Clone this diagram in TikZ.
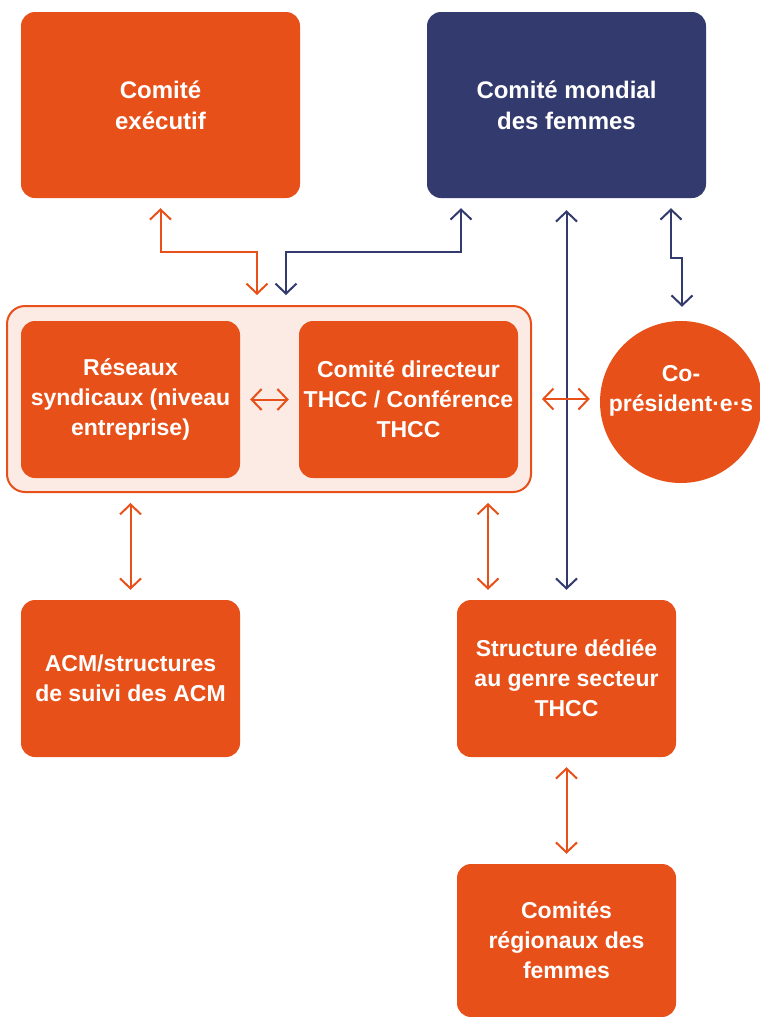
\documentclass[tikz,border=0pt]{standalone}
\usepackage{fontspec}
\setmainfont{Liberation Sans}
\usetikzlibrary{arrows.meta,calc,positioning}
\definecolor{orng}{HTML}{E8501A}
\definecolor{navy}{HTML}{333A6E}
\definecolor{pinkbg}{HTML}{FCEBE5}
\tikzset{
  box/.style={rectangle,rounded corners=14pt,fill=orng,draw=none,text=white,
    font=\fontsize{23}{30}\selectfont\bfseries,align=center,inner sep=0pt},
  bigbox/.style={box,font=\fontsize{24}{31}\selectfont\bfseries},
  nbox/.style={bigbox,fill=navy},
  barbtip/.tip={Straight Barb[length=10pt,width=21pt,line width=2pt]},
  oarr/.style={draw=orng,line width=2pt,barbtip-barbtip,shorten <=10pt,shorten >=10pt},
  narr/.style={draw=navy,line width=2pt,barbtip-barbtip,shorten <=10pt,shorten >=10pt},
}
\begin{document}
\begin{tikzpicture}[x=1pt,y=-1pt]
\useasboundingbox (0,0) rectangle (760,1017);
% group container
\node[rectangle,rounded corners=18pt,fill=pinkbg,draw=orng,line width=2pt,
  minimum width=524pt,minimum height=186pt,inner sep=0pt] (group) at (269,399) {};
\node[bigbox,minimum width=279pt,minimum height=186pt] (exec) at (160.5,105) {Comité\\exécutif};
\node[nbox,minimum width=279pt,minimum height=186pt] (mondial) at (566.5,105) {Comité mondial\\des femmes};
\node[box,minimum width=219pt,minimum height=157pt] (res) at (130.5,399.5) {Réseaux\\syndicaux (niveau\\entreprise)};
\node[box,minimum width=219pt,minimum height=157pt] (dir) at (408.5,399.5) {Comité directeur\\THCC / Conférence\\THCC};
\node[circle,fill=orng,minimum size=162pt,inner sep=0pt] (copres) at (681,402) {};
\node[text=white,font=\fontsize{23}{30}\selectfont\bfseries,align=center] (copreslbl) at (681,391) {Co-\\président·e·s};
\node[box,minimum width=219pt,minimum height=157pt] (acm) at (130.5,678.5) {ACM/structures\\de suivi des ACM};
\node[box,minimum width=219pt,minimum height=157pt] (struct) at (566.5,678.5) {Structure dédiée\\au genre secteur\\THCC};
\node[box,minimum width=219pt,minimum height=153pt] (reg) at (566.5,940.5) {Comités\\régionaux des\\femmes};
% coordinates
\coordinate (j1) at (257,252);
\coordinate (n1) at (286,252);
\coordinate (n2) at (461,252);
\coordinate (n3) at (671,258);
\coordinate (n4) at (682,258);
\coordinate (v1) at (488,0);
% connectors
\draw[oarr] (exec.south) |- (j1) -- (j1 |- group.north);
\draw[narr] (n1 |- group.north) -- (n1) -- (n2) -- (n2 |- mondial.south);
\draw[narr,shorten <=12pt] (mondial.south) -- (mondial.south |- struct.north);
\draw[narr,shorten >=14pt] (n3 |- mondial.south) -- (n3) -- (n4) -- (n4 |- copres.north);
\draw[oarr] (res.east) -- (dir.west);
\draw[oarr] (group.east) -- (group.east -| copres.west);
\draw[oarr] (res.south |- group.south) -- (acm.north);
\draw[oarr] (v1 |- group.south) -- (v1 |- struct.north);
\draw[oarr] (struct.south) -- (reg.north);
\end{tikzpicture}
\end{document}
